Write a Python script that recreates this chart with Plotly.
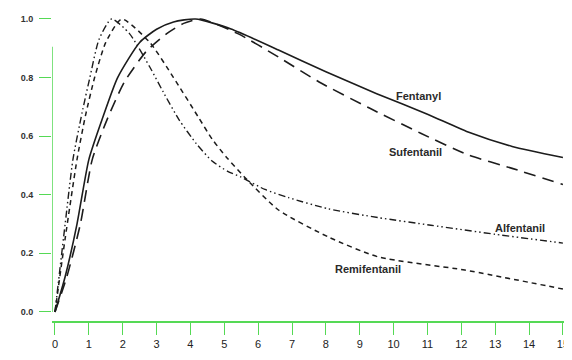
import plotly.graph_objects as go

# ---- data ----
fent_t = [0, 0.3, 0.65, 1.0, 1.4, 1.85, 2.5, 3.0, 3.5, 4.15, 5.2, 6.6, 8.0, 9.5, 11.0, 12.2, 13.5, 15]
fent_v = [0, 0.12, 0.30, 0.52, 0.66, 0.80, 0.92, 0.965, 0.99, 1.0, 0.966, 0.894, 0.82, 0.745, 0.675, 0.614, 0.565, 0.527]

sufe_t = [0, 0.35, 0.75, 1.1, 1.55, 2.05, 2.7, 3.3, 3.8, 4.3, 5.4, 6.6, 7.8, 9.3, 10.8, 12.2, 13.5, 15]
sufe_v = [0, 0.12, 0.30, 0.52, 0.66, 0.785, 0.89, 0.95, 0.985, 1.0, 0.95, 0.87, 0.785, 0.695, 0.61, 0.536, 0.49, 0.435]

alfe_t = [0, 0.3, 0.53, 0.8, 1.03, 1.3, 1.67, 2.2, 2.8, 3.2, 3.67, 4.17, 4.64, 5.1, 5.5, 6.2, 6.9, 8.07, 9.54, 11.1, 13, 15]
alfe_v = [0, 0.30, 0.52, 0.68, 0.80, 0.93, 1.0, 0.95, 0.836, 0.75, 0.655, 0.575, 0.515, 0.48, 0.46, 0.418, 0.39, 0.352, 0.322, 0.296, 0.265, 0.235]

remi_t = [0, 0.3, 0.65, 0.9, 1.17, 1.5, 1.97, 2.8, 3.5, 4.26, 4.64, 5.05, 5.6, 6.6, 8.07, 9.54, 12.1, 15]
remi_v = [0, 0.25, 0.52, 0.67, 0.80, 0.92, 1.0, 0.92, 0.80, 0.66, 0.59, 0.53, 0.46, 0.348, 0.256, 0.188, 0.143, 0.078]

x_ticks = list(range(0, 16))
y_ticks = [0.0, 0.2, 0.4, 0.6, 0.8, 1.0]
y_tick_text = ["0.0", "0.2", "0.4", "0.6", "0.8", "1.0"]

names = ["Fentanyl", "Sufentanil", "Alfentanil", "Remifentanil"]
label_pos = [(10.74, 0.737), (10.65, 0.546), (13.74, 0.287), (9.25, 0.147)]

GREEN = "#55d955"
INK = "#1c1c1c"

series = [
    (fent_t, fent_v, "solid", 1.6),
    (sufe_t, sufe_v, "12px,7px", 1.6),
    (alfe_t, alfe_v, "7px,3px,1.5px,3px,1.5px,3px", 1.4),
    (remi_t, remi_v, "5px,4px", 1.5),
]

fig = go.Figure()
for (t, v, dash, w), name in zip(series, names):
    fig.add_trace(go.Scatter(
        x=t, y=v, mode="lines", name=name,
        line=dict(color=INK, width=w, dash=dash, shape="spline", smoothing=0.6),
        showlegend=False,
    ))

for name, (lx, ly) in zip(names, label_pos):
    fig.add_annotation(x=lx, y=ly, xref="x", yref="y", text=f"<b>{name}</b>",
                       showarrow=False, font=dict(family="Liberation Sans, Arial", size=11, color="#2a2a2a"))

# y axis line (partial, as in the reference)
fig.add_shape(type="line", xref="x", yref="y", x0=-0.088, x1=-0.088, y0=0, y1=0.905,
              line=dict(color=GREEN, width=1.5))

# the page body adds an 8px margin, so the figure is sized to fit inside the window
fig.update_layout(
    width=564, height=352,
    margin=dict(l=44, r=4, t=6, b=39, autoexpand=False),
    paper_bgcolor="white", plot_bgcolor="white",
    font=dict(family="Liberation Sans, Arial", color="#222"),
    xaxis=dict(range=[-0.088, 15.15], tickvals=x_ticks, ticks="outside", ticklen=12,
               tickcolor=GREEN, tickwidth=1.3, showline=True, linecolor=GREEN, linewidth=1.5,
               showgrid=False, zeroline=False, automargin=False,
               tickfont=dict(size=11, color="#222")),
    yaxis=dict(range=[-0.031, 1.017], tickvals=y_ticks, ticktext=y_tick_text, ticks="outside",
               ticklen=12, tickcolor=GREEN, tickwidth=1.3, showline=False,
               showgrid=False, zeroline=False, automargin=False, ticklabelstandoff=4,
               tickfont=dict(size=9, color="#333", family="Liberation Sans, Arial", weight="bold")),
)

fig.write_html("out.html")
